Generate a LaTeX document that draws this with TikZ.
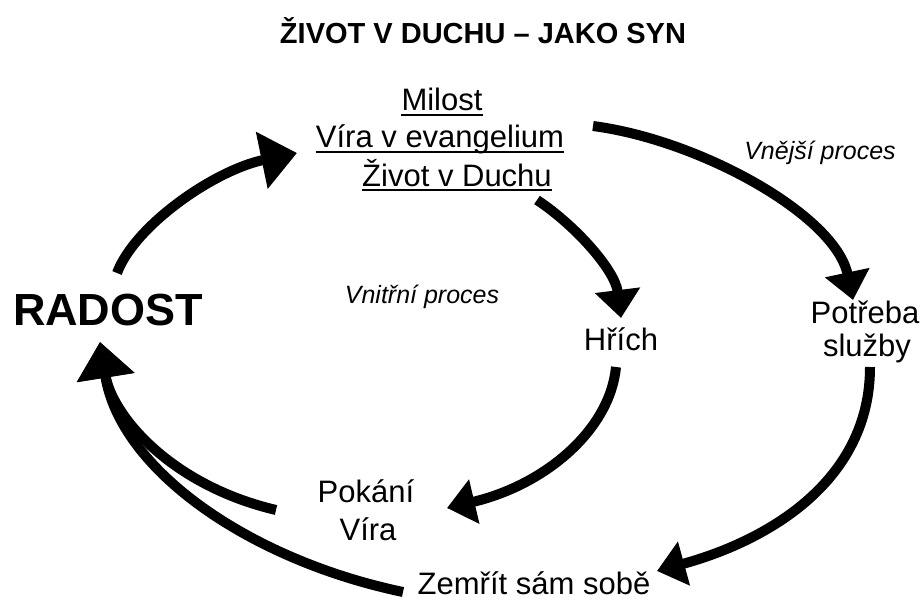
\documentclass[tikz,border=0pt]{standalone}
\usepackage{fontspec}
\setmainfont{Liberation Sans}
\usetikzlibrary{arrows.meta}
\begin{document}
\begin{tikzpicture}[x=1pt,y=-1pt,
  txt/.style={inner sep=0pt,anchor=base,font=\fontsize{31}{37}\selectfont},
  lbl/.style={inner sep=0pt,anchor=base,font=\fontsize{25}{30}\selectfont\itshape},
  ul/.style={line width=2pt},
  bigarr/.style={line width=10pt,-{Triangle[length=36pt,width=56pt]}},
  smallarr/.style={line width=10pt,-{Triangle[length=28pt,width=44pt]}}]
\useasboundingbox (0,0) rectangle (923,604);
% texts
\node[inner sep=0pt,anchor=base,font=\fontsize{29}{35}\selectfont\bfseries] (title) at (483,44) {ŽIVOT V DUCHU – JAKO SYN};
\node[inner sep=0pt,anchor=base,font=\fontsize{45}{54}\selectfont\bfseries] (radost) at (108,325) {RADOST};
\node[txt] (m1) at (442,111) {Milost};
\node[txt] (m2) at (440,148) {Víra v evangelium};
\node[txt] (m3) at (457,186) {Život v Duchu};
\draw[ul] ([yshift=-4pt]m1.base west) -- ([yshift=-4pt]m1.base east);
\draw[ul] ([yshift=-4pt]m2.base west) -- ([yshift=-4pt]m2.base east);
\draw[ul] ([yshift=-4pt]m3.base west) -- ([yshift=-4pt]m3.base east);
\node[lbl] (vnejsi) at (820,160) {Vnější proces};
\node[lbl] (vnitrni) at (422,303) {Vnitřní proces};
\node[txt] (hrich) at (621,350) {Hřích};
\node[txt] (potreba) at (865,323) {Potřeba};
\node[txt] (sluzby) at (867,356) {služby};
\node[txt] (pokani) at (366,502) {Pokání};
\node[txt] (vira) at (368,540) {Víra};
\node[txt] (zemrit) at (534,594) {Zemřít sám sobě};
% connector end points
\coordinate (aS) at (117,273);
\coordinate (aT) at (297,153);
\coordinate (bS) at (537,200);
\coordinate (bT) at (621,318);
\coordinate (cS) at (593,126);
\coordinate (cT) at (853,300);
\coordinate (dS) at (616,367);
\coordinate (dT) at (447,508);
\coordinate (eS) at (870,367);
\coordinate (eT) at (657,571);
\coordinate (fS) at (276,510);
\coordinate (fT) at (100,342);
\coordinate (gS) at (403,592);
% connectors
\draw[bigarr] (aS) .. controls (135,225) and (215,170) .. (aT);
\draw[smallarr] (bS) .. controls (575,225) and (615,270) .. (bT);
\draw[smallarr] (cS) .. controls (700,140) and (835,215) .. (cT);
\draw[smallarr] (dS) .. controls (610,430) and (545,485) .. (dT);
\draw[smallarr] (eS) .. controls (870,480) and (770,540) .. (eT);
\draw[bigarr] (fS) .. controls (170,485) and (112,415) .. (fT);
\draw[bigarr] (gS) .. controls (250,560) and (120,470) .. (fT);
\end{tikzpicture}
\end{document}
